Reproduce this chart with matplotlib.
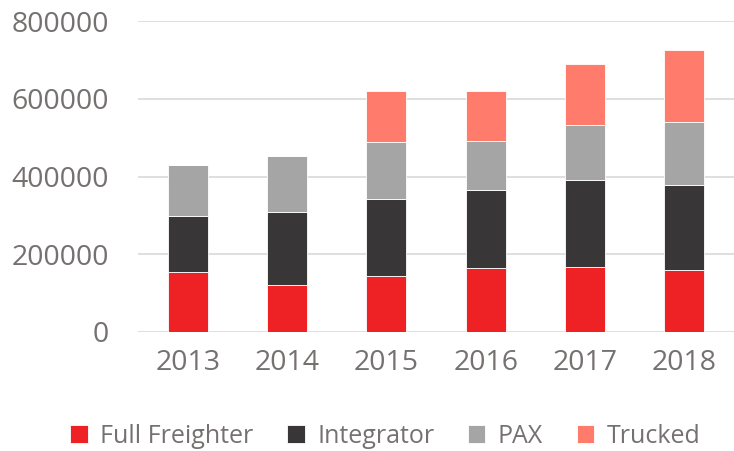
import numpy as np
import matplotlib.pyplot as plt

years = ["2013", "2014", "2015", "2016", "2017", "2018"]
full_freighter = [155000, 121000, 143000, 164000, 168000, 160000]
integrator = [144000, 187000, 199000, 201000, 223000, 218000]
pax = [130000, 145000, 147000, 127000, 143000, 163000]
trucked = [0, 0, 131000, 129000, 155000, 186000]

series = [("Full Freighter", full_freighter, "#EE2224"),
          ("Integrator", integrator, "#383637"),
          ("PAX", pax, "#A5A5A5"),
          ("Trucked", trucked, "#FF7B6B")]

plt.rcParams['font.family'] = ['Open Sans', 'DejaVu Sans']
txt = "#767171"

fig = plt.figure(figsize=(7.34, 4.51), dpi=100)
ax = fig.add_axes([0.188, 0.264, 0.812, 0.689])

x = np.arange(len(years))
bottom = np.zeros(len(years))
for name, vals, col in series:
    vals = np.array(vals)
    ax.bar(x, vals, 0.4, bottom=bottom, color=col, label=name,
           edgecolor="white", linewidth=0.6, zorder=3)
    bottom += vals

ax.set_ylim(0, 800000)
ax.set_xlim(-0.5, 5.5)
ax.set_yticks(range(0, 800001, 200000))
ax.set_xticks(x)
ax.set_xticklabels(years)
ax.yaxis.grid(True, color="#D9D9D9", linewidth=1.2, zorder=0)
ax.tick_params(length=0, labelsize=20.5, colors=txt, pad=12)
ax.tick_params(axis='y', pad=21)
for s in ax.spines.values():
    s.set_visible(False)

fig.legend(loc="center", bbox_to_anchor=(0.525, 0.033), ncol=4, frameon=False,
           fontsize=18, labelcolor=txt, handlelength=0.7, handleheight=0.7,
           handletextpad=0.5, columnspacing=1.35)

fig.savefig("out.png", dpi=100)
